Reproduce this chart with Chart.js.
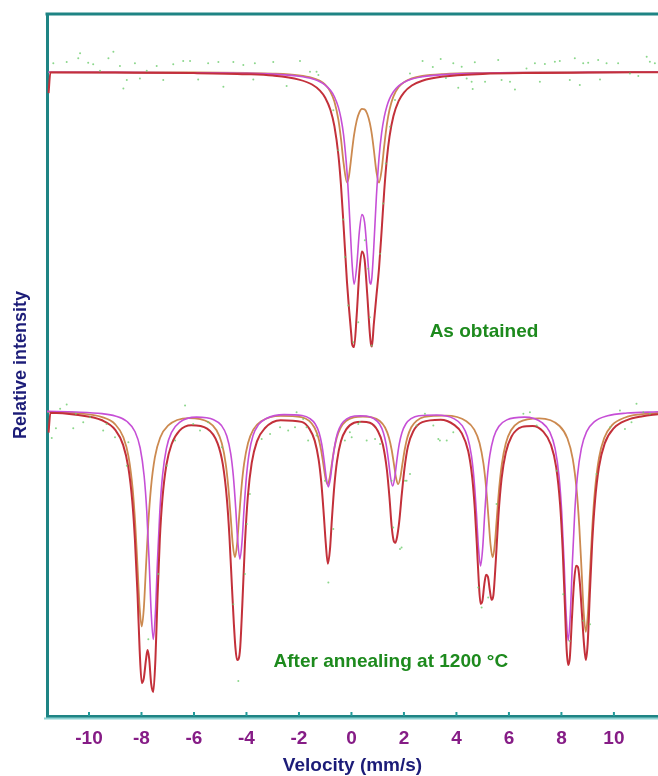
<!DOCTYPE html>
<html>
<head>
<meta charset="utf-8">
<script src="https://cdn.jsdelivr.net/npm/chart.js@4.4.1/dist/chart.umd.min.js"></script>
<style>
  html, body { margin: 0; padding: 0; background: #fff; }
  #wrap { width: 658px; height: 776px; position: relative; }
</style>
</head>
<body>
<div id="wrap"><canvas id="spectra"></canvas></div>
<script>
// velocity axis ticks (mm/s)
const velocityTicks = [-10, -8, -6, -4, -2, 0, 2, 4, 6, 8, 10];

// upper spectrum (as obtained), fits
const topVelocity = [-11.54, -11.47, -9, -6, -4, -3, -2, -1.5, -1.2, -1.0, -0.8, -0.65, -0.5, -0.4, -0.3, -0.17, -0.1, 0.0, 0.02, 0.1,
  0.2, 0.3, 0.4, 0.5, 0.6, 0.7, 0.74, 0.78, 0.85, 0.95, 1.05, 1.15, 1.25, 1.35, 1.45, 1.6, 1.8, 2.0, 2.3, 2.7,
  3.5, 5, 7, 9, 11.68];
const topOrange = [643, 642.9, 642.8, 642.6, 642.1, 641.5, 639.7, 637.3, 634.2, 630.4, 623.3, 613.6, 595.7, 576.5, 552.3, 532.7, 538.3, 559.3, 563.9, 580.2,
  594.5, 602.7, 606.2, 605.8, 601.4, 592.2, 586.7, 580.2, 566.1, 543.7, 532.7, 545.3, 569.5, 590.7, 605.4, 618.8, 628.1, 632.9, 636.7, 639.1,
  641.0, 642.2, 642.6, 642.8, 643];
const topMagenta = [643, 642.8, 642.7, 642.4, 641.8, 641.0, 638.8, 636.3, 633.3, 630.0, 624.8, 618.4, 608.0, 597.0, 580.3, 543.6, 513.7, 462.6, 453.3, 431.2,
  448.8, 483.3, 500.7, 493.2, 463.2, 433.0, 431.2, 438.4, 467.6, 518.5, 557.2, 582.3, 598.3, 608.9, 616.2, 623.4, 629.2, 632.7, 636.0, 638.3,
  640.5, 641.9, 642.5, 642.7, 643];
const topRed = [622, 642.7, 642.5, 642.0, 640.9, 639.5, 635.5, 630.6, 624.5, 617.4, 605.1, 589.0, 560.7, 530.5, 489.6, 433.3, 409.0, 378.9, 372.0, 368.4,
  400.3, 443.0, 463.9, 456.0, 421.6, 382.2, 372.0, 369.0, 390.7, 419.2, 446.9, 484.6, 524.8, 556.6, 578.6, 599.2, 614.3, 622.6, 629.6, 634.4,
  638.5, 641.1, 642.1, 642.5, 642.9];

// lower spectrum (after annealing), one grid per curve
const bottomOrangeV = [-11.6, -10.5, -9.5, -9.0, -8.69, -8.49, -8.34, -8.24, -8.15, -8.07, -7.99, -7.91, -7.83, -7.74, -7.64, -7.49, -7.29, -6.99, -6.2,
  -5.44, -5.14, -4.94, -4.79, -4.69, -4.6, -4.52, -4.44, -4.36, -4.28, -4.19, -4.09, -3.94, -3.74, -3.44, -2.7,
  -1.91, -1.61, -1.41, -1.26, -1.16, -1.07, -0.99, -0.91, -0.83, -0.75, -0.66, -0.56, -0.41, -0.21, 0.09, 0.44,
  0.78, 1.08, 1.28, 1.43, 1.53, 1.62, 1.7, 1.78, 1.86, 1.94, 2.03, 2.13, 2.28, 2.48, 2.78, 3.6,
  4.38, 4.68, 4.88, 5.03, 5.13, 5.22, 5.3, 5.38, 5.46, 5.54, 5.63, 5.73, 5.88, 6.08, 6.38, 7.15,
  7.93, 8.23, 8.43, 8.58, 8.68, 8.77, 8.85, 8.93, 9.01, 9.09, 9.18, 9.28, 9.43, 9.63, 9.93, 10.43, 11.0, 11.68];
const bottomOrangeI = [304, 302.4, 298.4, 291.2, 278.4, 258.6, 227.9, 192.7, 148.5, 108.0, 89.4, 107.8, 148.3, 192.4, 227.6, 258.2, 277.8, 289.9, 297.5,
  293.4, 285.4, 272.3, 251.8, 228.1, 198.3, 171.0, 158.5, 171.0, 198.3, 228.2, 251.9, 272.6, 286.0, 294.3, 299.7,
  298.5, 294.7, 288.1, 277.9, 266.1, 251.3, 237.7, 231.5, 237.7, 251.3, 266.1, 277.9, 288.1, 294.6, 298.3, 299.0,
  298.3, 294.6, 288.1, 277.9, 266.1, 251.3, 237.7, 231.5, 237.8, 251.4, 266.1, 278.0, 288.3, 294.7, 298.7, 299.9,
  294.4, 286.0, 272.7, 252.0, 228.3, 198.4, 171.0, 158.4, 170.9, 198.2, 228.0, 251.6, 272.2, 285.3, 293.3, 297.2,
  289.6, 277.1, 257.1, 225.8, 189.7, 144.4, 103.0, 84.0, 103.1, 144.5, 189.8, 226.0, 257.4, 277.6, 290.5, 298.1, 301.2, 302.7];

const bottomMagentaV = [-11.6, -10.5, -9.5, -9.0, -8.55, -8.25, -8.05, -7.9, -7.8, -7.71, -7.63, -7.55, -7.47, -7.39, -7.3, -7.2, -7.05, -6.85, -6.55, -5.9,
  -5.25, -4.95, -4.75, -4.6, -4.5, -4.41, -4.33, -4.25, -4.17, -4.09, -4.0, -3.9, -3.75, -3.55, -3.25, -2.57,
  -1.88, -1.58, -1.38, -1.23, -1.13, -1.04, -0.96, -0.88, -0.8, -0.72, -0.63, -0.53, -0.38, -0.18, 0.12, 0.345,
  0.57, 0.87, 1.07, 1.22, 1.32, 1.41, 1.49, 1.57, 1.65, 1.73, 1.82, 1.92, 2.07, 2.27, 2.57, 3.245,
  3.92, 4.22, 4.42, 4.57, 4.67, 4.76, 4.84, 4.92, 5.0, 5.08, 5.17, 5.27, 5.42, 5.62, 5.92, 6.59,
  7.26, 7.56, 7.76, 7.91, 8.01, 8.1, 8.18, 8.26, 8.34, 8.42, 8.51, 8.61, 8.76, 8.96, 9.26, 9.76, 10.5, 11.68];
const bottomMagentaI = [304.2, 303.5, 301.9, 299.6, 294.1, 284.1, 267.6, 239.9, 205.0, 155.4, 103.1, 76.5, 103.0, 155.3, 204.9, 239.8, 267.3, 283.5, 293.2, 298.4,
  295.9, 290.0, 279.6, 262.0, 239.5, 207.6, 173.9, 156.7, 173.9, 207.6, 239.5, 262.1, 280.0, 290.7, 297.0, 300.9,
  300.0, 296.9, 291.6, 282.6, 271.1, 254.8, 237.6, 228.8, 237.6, 254.8, 271.0, 282.5, 291.4, 296.7, 299.5, 299.7,
  299.5, 296.7, 291.6, 282.7, 271.4, 255.3, 238.3, 229.7, 238.3, 255.3, 271.4, 282.7, 291.6, 296.9, 299.9, 300.5,
  296.7, 290.0, 278.8, 260.2, 236.6, 203.1, 167.8, 149.8, 167.7, 203.0, 236.4, 259.9, 278.4, 289.4, 295.7, 298.4,
  293.0, 283.4, 267.0, 239.3, 204.3, 154.4, 101.9, 75.3, 102.0, 154.5, 204.4, 239.5, 267.3, 283.9, 293.9, 299.8, 302.5, 303.8];

const bottomRedV = [-11.54, -11.47, -10.5, -9.5, -9.0, -8.7, -8.5, -8.35, -8.25, -8.15, -8.07, -7.99, -7.91, -7.83, -7.77, -7.71, -7.63, -7.55, -7.47, -7.39,
  -7.3, -7.2, -7.05, -6.85, -6.55, -6.1, -5.5, -5.1, -4.9, -4.75, -4.65, -4.55, -4.48, -4.42, -4.36, -4.3, -4.24, -4.16,
  -4.06, -3.95, -3.8, -3.6, -3.3, -2.7, -1.9, -1.6, -1.4, -1.25, -1.15, -1.06, -0.98, -0.9, -0.82, -0.74, -0.65, -0.55,
  -0.4, -0.2, 0.1, 0.4, 0.7, 1.0, 1.2, 1.35, 1.45, 1.53, 1.6, 1.67, 1.74, 1.82, 1.92, 2.02, 2.15, 2.35, 2.7, 3.4,
  3.9, 4.2, 4.45, 4.6, 4.7, 4.78, 4.85, 4.92, 4.99, 5.06, 5.13, 5.2, 5.27, 5.34, 5.41, 5.5, 5.6, 5.72, 5.88, 6.1, 6.5, 6.9,
  7.3, 7.6, 7.8, 7.95, 8.05, 8.13, 8.2, 8.26, 8.32, 8.4, 8.48, 8.56, 8.63, 8.7, 8.78, 8.86, 8.93, 9.0, 9.08, 9.17,
  9.28, 9.43, 9.65, 10.0, 10.5, 11.1, 11.68];
const bottomRedI = [283, 302.9, 300.9, 295.3, 285.8, 270.7, 248.0, 214.3, 176.0, 121.1, 66, 33, 38, 56, 66, 58, 32, 24, 56, 118,
  177.2, 217.7, 250.9, 271.6, 285.0, 290.3, 287.0, 272.3, 251.2, 217.9, 179.9, 127.3, 92, 68, 56, 57, 68, 110,
  171.3, 218.4, 252.8, 274.3, 287.3, 295.3, 293.7, 286.7, 275.0, 256.0, 233.5, 203.4, 173.0, 152, 166, 198.5, 230.5, 254.5,
  274.3, 286.2, 292.8, 293.8, 292.8, 284.9, 270.7, 245.9, 217.7, 190, 176, 173, 179, 194, 222, 247, 269, 284.1, 293.4, 295.9,
  291.0, 282.5, 264.3, 238.6, 207.0, 170.0, 134.6, 112, 115, 131, 141, 139, 126, 116, 121, 155, 200, 237, 262.8, 279.1, 288.7, 289.7,
  284.2, 270.9, 248.6, 211.3, 165.1, 111.9, 66, 51, 58, 97.1, 133.2, 150.0, 148.6, 133.6, 103.0, 72, 56, 72, 120, 171.5,
  214.6, 248.5, 272.2, 287.5, 295.5, 299.3, 301.4];

// measured counts (green dots)
const dotsTopV = [-11.36, -10.85, -10.41, -10.34, -10.03, -9.84, -9.58, -9.26, -9.07, -8.82, -8.69, -8.56, -8.25, -8.06, -7.8, -7.42, -7.17, -6.79, -6.41, -6.15,
  -5.84, -5.46, -5.07, -4.88, -4.5, -4.12, -3.74, -3.68, -2.98, -2.47, -1.96, -1.58, -1.33, -1.26, -0.69, -0.5, -0.31, -0.25, -0.12, 0.07,
  0.26, 0.51, 0.64, 0.7, 0.77, 1.09, 1.21, 1.31, 1.47, 1.66, 2.23, 2.71, 3.1, 3.4, 3.6, 3.88, 4.07, 4.2, 4.39, 4.58,
  4.62, 4.7, 5.09, 5.59, 5.72, 6.04, 6.23, 6.67, 6.99, 7.18, 7.37, 7.75, 7.94, 8.32, 8.51, 8.7, 8.83, 9.02, 9.4, 9.47,
  9.72, 10.16, 10.61, 10.93, 11.25, 11.37, 11.56];
const dotsTopI = [651.7, 653, 656.7, 661.7, 652.3, 650.7, 644.3, 656.7, 663.3, 649, 626.7, 635, 651.7, 636.7, 644.3, 649, 635, 650.7, 654, 654,
  635.7, 651.7, 653, 628.3, 653, 650, 635.7, 651.7, 653, 629, 654, 643.3, 643.3, 640, 605, 565, 495.7, 458.3, 410, 373.3,
  393.3, 475, 446.7, 398.3, 370, 461.7, 511.7, 551.7, 588.3, 615, 641.7, 654, 648, 656, 637, 651.7, 627.3, 648.3, 636.7, 633.3,
  626, 652.7, 633.3, 655, 635, 633.3, 625.7, 646.7, 651.7, 633.3, 651, 653.3, 654, 635, 656.7, 630, 651.7, 652.3, 655, 635.7,
  651.7, 651.7, 641.7, 639, 658.3, 653.3, 651.7];

const dotsBottomV = [-11.42, -11.26, -11.1, -10.85, -10.6, -10.5, -10.22, -9.96, -9.46, -9.33, -9.01, -8.5, -8.56, -7.74, -7.36, -7.04, -6.72, -6.34, -6.03, -5.77,
  -5.46, -4.94, -4.5, -4.31, -4.06, -3.99, -3.87, -3.42, -3.1, -2.72, -2.41, -2.15, -2.09, -1.84, -1.71, -1.65, -1.33, -1.01, -0.88, -0.69,
  -0.25, -0.06, 0.01, 0.26, 0.32, 0.58, 0.9, 1.09, 1.53, 1.59, 1.85, 1.91, 2.04, 2.1, 2.23, 2.48, 2.8, 3.12, 3.31, 3.37,
  3.63, 3.88, 4.83, 4.96, 5.21, 5.53, 6.55, 6.8, 7.06, 7.82, 8.07, 8.32, 8.83, 9.09, 9.34, 9.85, 10.23, 10.42, 10.67, 10.86,
  11.12, 11.37];
const dotsBottomI = [277.7, 287.3, 306.7, 311, 287.3, 301.7, 293.3, 298.3, 285, 291.7, 278.3, 273.3, 250, 76.7, 141.7, 250, 275, 310, 291.7, 285,
  293.3, 268.3, 111.7, 35, 141.7, 191.7, 221.7, 276.7, 281.7, 288.3, 285, 288.3, 303.3, 296.7, 288.3, 275, 280, 235, 133.3, 186.7,
  275, 283.3, 278.3, 291.7, 293.3, 275, 276.7, 271.7, 235, 188.3, 166.7, 168.3, 235, 235, 241.7, 290, 301.7, 290, 276.7, 275,
  275, 283.3, 128.3, 108.3, 118.3, 211.7, 301.7, 303.3, 290, 245, 121.7, 75, 95, 91.7, 241.7, 288.3, 305, 286.7, 293.3, 311.7,
  303.3, 301.7];

const panelLabels = ['As obtained', 'After annealing at 1200 °C'];
const labelAnchors = [[5.05, 384], [1.5, 54]];

const pts = (xs, ys) => xs.map((x, i) => ({ x: x, y: ys[i] }));

const TEAL = '#1e8484';
const FONT = '"Liberation Sans", Arial, Helvetica, sans-serif';

function curve(data, color, width, order) {
  return {
    data: data,
    showLine: true,
    borderColor: color,
    borderWidth: width,
    pointRadius: 0,
    cubicInterpolationMode: 'monotone',
    order: order
  };
}

function dots(data) {
  return {
    data: data,
    showLine: false,
    pointRadius: 1.0,
    pointBorderWidth: 0,
    backgroundColor: 'rgba(110, 205, 110, 0.8)',
    order: 0
  };
}

const framePlugin = {
  id: 'frame',
  afterDraw(chart) {
    const ctx = chart.ctx;
    const a = chart.chartArea;
    const x = chart.scales.x;
    const y = chart.scales.y;
    ctx.save();
    // top border
    ctx.strokeStyle = TEAL;
    ctx.lineWidth = 3;
    ctx.beginPath();
    ctx.moveTo(a.left - 1.5, a.top);
    ctx.lineTo(chart.width, a.top);
    ctx.stroke();
    // pale shadow under the velocity axis
    ctx.strokeStyle = '#8ed2d2';
    ctx.lineWidth = 2;
    ctx.beginPath();
    ctx.moveTo(a.left - 3, a.bottom + 2.5);
    ctx.lineTo(chart.width, a.bottom + 2.5);
    ctx.stroke();
    // small inward tick marks
    ctx.strokeStyle = '#229a9a';
    ctx.lineWidth = 2;
    x.ticks.forEach(t => {
      const px = x.getPixelForValue(t.value);
      ctx.beginPath();
      ctx.moveTo(px, a.bottom);
      ctx.lineTo(px, a.bottom - 4);
      ctx.stroke();
    });
    // panel labels
    ctx.fillStyle = '#1d8a1d';
    ctx.font = 'bold 19px ' + FONT;
    ctx.textAlign = 'center';
    ctx.textBaseline = 'middle';
    panelLabels.forEach((txt, i) => {
      ctx.fillText(txt, x.getPixelForValue(labelAnchors[i][0]), y.getPixelForValue(labelAnchors[i][1]));
    });
    ctx.restore();
  }
};

new Chart(document.getElementById('spectra'), {
  type: 'scatter',
  data: {
    datasets: [
      curve(pts(topVelocity, topRed), '#c3303a', 2, 1),
      curve(pts(bottomRedV, bottomRedI), '#c3303a', 2, 1),
      curve(pts(topVelocity, topMagenta), '#c64fd6', 1.6, 2),
      curve(pts(bottomMagentaV, bottomMagentaI), '#c64fd6', 1.6, 2),
      curve(pts(topVelocity, topOrange), '#cc8a50', 1.8, 3),
      curve(pts(bottomOrangeV, bottomOrangeI), '#cc8a50', 1.8, 3),
      dots(pts(dotsTopV, dotsTopI)),
      dots(pts(dotsBottomV, dotsBottomI))
    ]
  },
  options: {
    responsive: true,
    maintainAspectRatio: false,
    animation: false,
    layout: { autoPadding: false, padding: { top: 14, right: 0, bottom: 0, left: 0 } },
    plugins: {
      legend: { display: false },
      tooltip: { enabled: false }
    },
    scales: {
      x: {
        type: 'linear',
        min: -11.6,
        max: 11.68,
        afterBuildTicks: s => { s.ticks = velocityTicks.map(v => ({ value: v })); },
        grid: { display: false, drawTicks: false },
        border: { display: true, color: TEAL, width: 3 },
        ticks: {
          color: '#861c86',
          padding: 13.5,
          font: { family: FONT, size: 19, weight: 'bold', lineHeight: 1.0 }
        },
        title: {
          display: true,
          text: 'Velocity (mm/s)',
          color: '#1c1c78',
          font: { family: FONT, size: 19, weight: 'bold', lineHeight: 1.0 },
          padding: { top: -5.5, bottom: 0.5 }
        }
      },
      y: {
        type: 'linear',
        min: 0,
        max: 701,
        grid: { display: false, drawTicks: false },
        border: { display: true, color: TEAL, width: 3 },
        ticks: { display: false },
        title: {
          display: true,
          text: 'Relative intensity',
          color: '#1c1c78',
          font: { family: FONT, size: 18, weight: 'bold', lineHeight: 1.2 },
          padding: { top: 10, bottom: 15.4 }
        }
      }
    }
  },
  plugins: [framePlugin]
});
</script>
</body>
</html>
